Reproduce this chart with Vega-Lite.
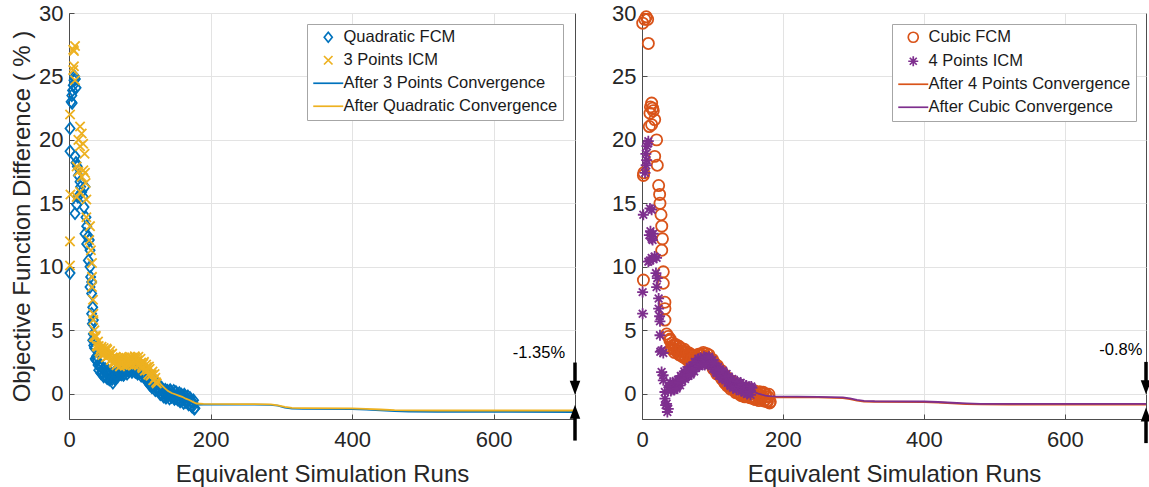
{
  "$schema": "https://vega.github.io/schema/vega-lite/v6.json",
  "padding": {"left": 10, "top": 1, "right": 0, "bottom": 0},
  "config": {
    "font": "Liberation Sans",
    "view": {"stroke": "#4d4d4d", "strokeWidth": 1},
    "axis": {"labelFontSize": 22, "labelColor": "#262626", "titleFontSize": 24, "titleColor": "#262626", "titleFontWeight": "normal", "domainColor": "#4d4d4d", "tickColor": "#4d4d4d", "gridColor": "#e3e3e3", "gridWidth": 1, "tickSize": -5, "labelFlush": false},
    "axisX": {"labelPadding": 15, "titlePadding": 12},
    "axisY": {"labelPadding": 11, "titlePadding": 4},
    "legend": {"labelFontSize": 16.5, "labelColor": "#1a1a1a", "labelFont": "Liberation Sans", "symbolSize": 100, "symbolStrokeWidth": 1.7, "padding": 5, "rowPadding": 6, "strokeColor": "#a6a6a6", "fillColor": "white", "labelLimit": 400, "symbolOffset": 8, "labelOffset": 7}
  },
  "datasets": {
    "qf": [
      {"x":1.5,"y":9.5},{"x":1.5,"y":19.1},{"x":1.5,"y":20.9},{"x":3,"y":23.0},{"x":4,"y":23.5},{"x":5,"y":23.9},{"x":6,"y":24.3},{"x":7,"y":24.7},{"x":8,"y":25.0},{"x":9,"y":24.8},{"x":10,"y":24.1},{"x":4.5,"y":22.9},
      {"x":8.5,"y":18.7},{"x":9.9,"y":18.2},{"x":11.8,"y":17.9},{"x":13.2,"y":17.2},{"x":15.6,"y":16.7},{"x":16.5,"y":16.3},{"x":18,"y":15.9},{"x":20.3,"y":15.5},{"x":22.6,"y":16.3},{"x":21.2,"y":14.7},{"x":8.5,"y":14.2},{"x":10.8,"y":14.9},{"x":12.5,"y":15.5},{"x":24,"y":13.9},{"x":25,"y":13.2},{"x":22.6,"y":12.6},{"x":27.3,"y":12.4},{"x":28.7,"y":12.1},{"x":25,"y":11.8},{"x":29.7,"y":11.3},{"x":27.3,"y":10.5},{"x":29.7,"y":10.0},{"x":30.6,"y":9.2},{"x":32,"y":8.8},{"x":29.7,"y":8.4},{"x":32,"y":7.9},{"x":33.5,"y":6.8},{"x":32,"y":6.3},{"x":34.4,"y":5.8},{"x":33,"y":5.5},{"x":34.4,"y":4.7},{"x":33.5,"y":4.2},{"x":35,"y":3.8},
      {"x":36,"y":3.6},{"x":38,"y":2.65},{"x":40,"y":2.6},{"x":42,"y":1.85},{"x":44,"y":2.15},{"x":46,"y":1.6},{"x":48,"y":1.95},{"x":50,"y":1.5},{"x":52,"y":1.65},{"x":54,"y":1.2},
      {"x":56,"y":1.8},{"x":58,"y":1.15},{"x":60,"y":1.4},{"x":62,"y":0.85},{"x":64,"y":1.55},{"x":66,"y":1.3},{"x":68,"y":1.95},{"x":70,"y":1.5},{"x":72,"y":1.85},{"x":74,"y":1.5},
      {"x":76,"y":2.1},{"x":78,"y":1.55},{"x":80,"y":2.0},{"x":82,"y":1.55},{"x":84,"y":2.15},{"x":86,"y":1.9},{"x":88,"y":2.35},{"x":90,"y":1.8},{"x":92,"y":2.05},{"x":94,"y":1.7},
      {"x":96,"y":2.2},{"x":98,"y":1.65},{"x":100,"y":1.9},{"x":102,"y":1.4},{"x":104,"y":1.95},{"x":106,"y":1.45},{"x":108,"y":1.75},{"x":110,"y":1.1},{"x":112,"y":1.2},{"x":114,"y":0.7},
      {"x":116,"y":1.2},{"x":118,"y":0.55},{"x":120,"y":0.8},{"x":122,"y":0.25},{"x":124,"y":0.75},{"x":126,"y":0.3},{"x":128,"y":0.65},{"x":130,"y":0.0},{"x":132,"y":0.17},{"x":134,"y":-0.25},
      {"x":136,"y":0.32},{"x":138,"y":-0.25},{"x":140,"y":0.08},{"x":142,"y":-0.4},{"x":144,"y":0.18},{"x":146,"y":-0.2},{"x":148,"y":0.23},{"x":150,"y":-0.35},{"x":152,"y":-0.12},{"x":154,"y":-0.5},
      {"x":156,"y":0.05},{"x":158,"y":-0.55},{"x":160,"y":-0.25},{"x":162,"y":-0.75},{"x":164,"y":-0.2},{"x":166,"y":-0.6},{"x":168,"y":-0.2},{"x":170,"y":-0.8},{"x":172,"y":-0.62},{"x":174,"y":-1.05},
      {"x":176,"y":-0.52},{"x":178,"y":-1.15},
      {"x":37,"y":2.75},{"x":39,"y":2.95},{"x":41,"y":2.25},{"x":43,"y":2.4},{"x":45,"y":1.6},{"x":47,"y":1.7},{"x":49,"y":1.35},{"x":51,"y":1.95},{"x":53,"y":1.3},{"x":55,"y":1.6},
      {"x":57,"y":1.1},{"x":59,"y":1.6},{"x":61,"y":1.15},{"x":63,"y":1.6},{"x":65,"y":1.15},{"x":67,"y":1.55},{"x":69,"y":1.35},{"x":71,"y":2.05},{"x":73,"y":1.55},{"x":75,"y":1.9},
      {"x":77,"y":1.45},{"x":79,"y":2.1},{"x":81,"y":1.8},{"x":83,"y":2.25},{"x":85,"y":1.75},{"x":87,"y":2.05},{"x":89,"y":1.7},{"x":91,"y":2.3},{"x":93,"y":1.75},{"x":95,"y":2.05},
      {"x":97,"y":1.55},{"x":99,"y":2.1},{"x":101,"y":1.68},{"x":103,"y":2.07},{"x":105,"y":1.42},{"x":107,"y":1.53},{"x":109,"y":1.05},{"x":111,"y":1.52},{"x":113,"y":0.83},{"x":115,"y":1.05},
      {"x":117,"y":0.5},{"x":119,"y":1.0},{"x":121,"y":0.55},{"x":123,"y":0.9},{"x":125,"y":0.25},{"x":127,"y":0.4},{"x":129,"y":-0.05},{"x":131,"y":0.46},{"x":133,"y":-0.17},{"x":135,"y":0.13},
      {"x":137,"y":-0.34},{"x":139,"y":0.24},{"x":141,"y":-0.13},{"x":143,"y":0.29},{"x":145,"y":-0.28},{"x":147,"y":-0.06},{"x":149,"y":-0.43},{"x":151,"y":0.14},{"x":153,"y":-0.43},{"x":155,"y":-0.12},
      {"x":157,"y":-0.62},{"x":159,"y":-0.07},{"x":161,"y":-0.47},{"x":163,"y":-0.07},{"x":165,"y":-0.67},{"x":167,"y":-0.47},{"x":169,"y":-0.87},{"x":171,"y":-0.33},{"x":173,"y":-0.96},{"x":175,"y":-0.68},{"x":177,"y":-1.21}
    ],
    "p3": [
      {"x":1.4,"y":10.1},{"x":1.4,"y":12.0},{"x":2,"y":15.7},{"x":1.5,"y":22.0},{"x":6,"y":27.1},{"x":8.5,"y":27.4},{"x":7,"y":27.0},{"x":6,"y":25.5},{"x":8.5,"y":24.7},{"x":7,"y":25.8},
      {"x":15.6,"y":21.05},{"x":13.2,"y":20.0},{"x":18,"y":20.5},{"x":15.6,"y":19.5},{"x":20,"y":19.7},{"x":22,"y":18.9},{"x":10.8,"y":17.9},{"x":13.2,"y":17.5},{"x":20.3,"y":17.6},{"x":18,"y":17.1},{"x":22.6,"y":17.4},{"x":23.5,"y":16.6},{"x":10.8,"y":15.5},{"x":15.6,"y":15.9},{"x":24.5,"y":15.3},{"x":24.5,"y":13.9},{"x":29.7,"y":13.2},{"x":28.7,"y":12.1},{"x":31,"y":11.3},{"x":32.5,"y":10.3},{"x":32.5,"y":9.2},{"x":32.5,"y":8.4},{"x":33.9,"y":7.4},{"x":34.4,"y":6.3},{"x":34.4,"y":5.8},{"x":36,"y":5.0},{"x":35,"y":4.5},
      {"x":36,"y":4.5},{"x":38,"y":4.55},{"x":40,"y":3.7},{"x":42,"y":3.75},{"x":44,"y":3.2},{"x":46,"y":3.7},{"x":48,"y":3.15},{"x":50,"y":3.4},{"x":52,"y":2.85},{"x":54,"y":3.45},
      {"x":56,"y":3.0},{"x":58,"y":3.35},{"x":60,"y":2.7},{"x":62,"y":2.85},{"x":64,"y":2.4},{"x":66,"y":2.9},{"x":68,"y":2.3},{"x":70,"y":2.6},{"x":72,"y":2.15},{"x":74,"y":2.75},
      {"x":76,"y":2.4},{"x":78,"y":2.85},{"x":80,"y":2.3},{"x":82,"y":2.6},{"x":84,"y":2.3},{"x":86,"y":2.9},{"x":88,"y":2.35},{"x":90,"y":2.7},{"x":92,"y":2.25},{"x":94,"y":2.85},
      {"x":96,"y":2.5},{"x":98,"y":2.9},{"x":100,"y":2.3},{"x":102,"y":2.45},{"x":104,"y":2.0},{"x":106,"y":2.5},{"x":108,"y":1.85},{"x":110,"y":2.1},{"x":112,"y":1.5},{"x":114,"y":1.95},
      {"x":116,"y":1.45},{"x":118,"y":1.75},{"x":120,"y":1.1},{"x":122,"y":1.25},{"x":124,"y":0.8},
      {"x":37,"y":4.45},{"x":39,"y":3.75},{"x":41,"y":4.1},{"x":43,"y":3.35},{"x":45,"y":3.55},{"x":47,"y":3.05},{"x":49,"y":3.6},{"x":51,"y":3.15},{"x":53,"y":3.55},{"x":55,"y":2.95},
      {"x":57,"y":3.1},{"x":59,"y":2.65},{"x":61,"y":3.15},{"x":63,"y":2.5},{"x":65,"y":2.75},{"x":67,"y":2.23},{"x":69,"y":2.77},{"x":71,"y":2.4},{"x":73,"y":2.85},{"x":75,"y":2.3},
      {"x":77,"y":2.55},{"x":79,"y":2.2},{"x":81,"y":2.82},{"x":83,"y":2.33},{"x":85,"y":2.7},{"x":87,"y":2.25},{"x":89,"y":2.85},{"x":91,"y":2.5},{"x":93,"y":2.95},{"x":95,"y":2.4},
      {"x":97,"y":2.63},{"x":99,"y":2.22},{"x":101,"y":2.75},{"x":103,"y":2.1},{"x":105,"y":2.35},{"x":107,"y":1.8},{"x":109,"y":2.3},{"x":111,"y":1.82},{"x":113,"y":2.13},{"x":115,"y":1.42},
      {"x":117,"y":1.53},{"x":119,"y":1.05},{"x":121,"y":1.55},{"x":123,"y":0.9}
    ],
    "a3": [
      {"x":178,"y":-0.88},{"x":190,"y":-0.86},{"x":250,"y":-0.86},{"x":285,"y":-0.88},{"x":295,"y":-0.95},{"x":305,"y":-1.1},{"x":315,"y":-1.18},{"x":330,"y":-1.2},{"x":400,"y":-1.22},{"x":420,"y":-1.26},{"x":440,"y":-1.32},{"x":460,"y":-1.38},{"x":480,"y":-1.42},{"x":520,"y":-1.44},{"x":715,"y":-1.45}
    ],
    "aq": [
      {"x":124,"y":1.1},{"x":128,"y":0.85},{"x":132,"y":0.6},{"x":136,"y":0.4},{"x":140,"y":0.2},{"x":145,"y":0.05},{"x":150,"y":-0.05},{"x":155,"y":-0.15},{"x":160,"y":-0.25},{"x":165,"y":-0.4},{"x":170,"y":-0.5},{"x":175,"y":-0.65},{"x":180,"y":-0.78},{"x":190,"y":-0.8},{"x":250,"y":-0.82},{"x":285,"y":-0.85},{"x":295,"y":-0.92},{"x":305,"y":-1.05},{"x":315,"y":-1.13},{"x":330,"y":-1.15},{"x":400,"y":-1.17},{"x":420,"y":-1.2},{"x":440,"y":-1.25},{"x":460,"y":-1.3},{"x":480,"y":-1.32},{"x":520,"y":-1.33},{"x":715,"y":-1.33}
    ],
    "cf": [
      {"x":1,"y":29.2},{"x":4,"y":29.5},{"x":6,"y":29.7},{"x":8,"y":29.5},{"x":9,"y":27.6},{"x":2,"y":17.2},{"x":2.5,"y":17.4},{"x":2,"y":8.95},
      {"x":13.7,"y":22.9},{"x":15,"y":22.5},{"x":11.3,"y":22.1},{"x":16,"y":22.3},{"x":10.4,"y":21.05},{"x":13.7,"y":21.2},{"x":18,"y":21.6},{"x":12,"y":22.6},
      {"x":20.7,"y":20.0},{"x":18,"y":18.7},{"x":21.7,"y":18.0},{"x":23.6,"y":16.4},{"x":25,"y":15.7},{"x":25.5,"y":15.0},{"x":27,"y":14.1},{"x":28,"y":13.2},{"x":29,"y":12.2},{"x":28,"y":11.3},{"x":30.2,"y":9.6},{"x":30.2,"y":8.7},{"x":32.5,"y":7.2},{"x":32.5,"y":6.7},{"x":32.5,"y":5.8},{"x":34.9,"y":4.7},{"x":37.3,"y":4.5},{"x":39.6,"y":4.2},
      {"x":40,"y":4.3},{"x":42,"y":3.55},{"x":44,"y":3.8},{"x":46,"y":3.25},{"x":48,"y":3.75},{"x":50,"y":3.4},{"x":52,"y":3.75},{"x":54,"y":3.1},{"x":56,"y":3.35},{"x":58,"y":2.9},
      {"x":60,"y":3.5},{"x":62,"y":2.85},{"x":64,"y":3.1},{"x":66,"y":2.55},{"x":68,"y":3.05},{"x":70,"y":2.6},{"x":72,"y":3.05},{"x":74,"y":2.5},{"x":76,"y":2.75},{"x":78,"y":2.4},
      {"x":80,"y":3.1},{"x":82,"y":2.55},{"x":84,"y":3.0},{"x":86,"y":2.55},{"x":88,"y":3.15},{"x":90,"y":2.8},{"x":92,"y":3.15},{"x":94,"y":2.6},{"x":96,"y":2.75},{"x":98,"y":2.3},
      {"x":100,"y":2.7},{"x":102,"y":1.95},{"x":104,"y":2.2},{"x":106,"y":1.55},{"x":108,"y":2.05},{"x":110,"y":1.5},{"x":112,"y":1.85},{"x":114,"y":1.2},{"x":116,"y":1.25},{"x":118,"y":0.8},
      {"x":120,"y":1.3},{"x":122,"y":0.65},{"x":124,"y":0.9},{"x":126,"y":0.35},{"x":128,"y":0.85},{"x":130,"y":0.4},{"x":132,"y":0.75},{"x":134,"y":0.15},{"x":136,"y":0.35},{"x":138,"y":-0.05},
      {"x":140,"y":0.5},{"x":142,"y":-0.1},{"x":144,"y":0.2},{"x":146,"y":-0.25},{"x":148,"y":0.3},{"x":150,"y":-0.1},{"x":152,"y":0.35},{"x":154,"y":-0.25},{"x":156,"y":0.0},{"x":158,"y":-0.4},
      {"x":160,"y":0.2},{"x":162,"y":-0.4},{"x":164,"y":-0.05},{"x":166,"y":-0.55},{"x":168,"y":0.05},{"x":170,"y":-0.35},{"x":172,"y":0.1},{"x":174,"y":-0.5},{"x":176,"y":-0.25},{"x":178,"y":-0.65},
      {"x":180,"y":-0.05},{"x":182,"y":-0.65},
      {"x":41,"y":3.55},{"x":43,"y":4.0},{"x":45,"y":3.55},{"x":47,"y":3.9},{"x":49,"y":3.3},{"x":51,"y":3.5},{"x":53,"y":3.05},{"x":55,"y":3.6},{"x":57,"y":3.0},{"x":59,"y":3.3},
      {"x":61,"y":2.8},{"x":63,"y":3.3},{"x":65,"y":2.85},{"x":67,"y":3.2},{"x":69,"y":2.55},{"x":71,"y":2.75},{"x":73,"y":2.4},{"x":75,"y":3.0},{"x":77,"y":2.45},{"x":79,"y":2.85},
      {"x":81,"y":2.45},{"x":83,"y":3.1},{"x":85,"y":2.8},{"x":87,"y":3.25},{"x":89,"y":2.7},{"x":91,"y":2.9},{"x":93,"y":2.5},{"x":95,"y":3.05},{"x":97,"y":2.4},{"x":99,"y":2.6},
      {"x":101,"y":1.95},{"x":103,"y":2.4},{"x":105,"y":1.9},{"x":107,"y":2.2},{"x":109,"y":1.5},{"x":111,"y":1.6},{"x":113,"y":1.15},{"x":115,"y":1.6},{"x":117,"y":0.9},{"x":119,"y":1.15},
      {"x":121,"y":0.6},{"x":123,"y":1.1},{"x":125,"y":0.65},{"x":127,"y":1.0},{"x":129,"y":0.35},{"x":131,"y":0.5},{"x":133,"y":0.08},{"x":135,"y":0.63},{"x":137,"y":0.03},{"x":139,"y":0.32},
      {"x":141,"y":-0.17},{"x":143,"y":0.37},{"x":145,"y":0.0},{"x":147,"y":0.43},{"x":149,"y":-0.18},{"x":151,"y":0.05},{"x":153,"y":-0.32},{"x":155,"y":0.25},{"x":157,"y":-0.33},{"x":159,"y":0.0},
      {"x":161,"y":-0.47},{"x":163,"y":0.1},{"x":165,"y":-0.28},{"x":167,"y":0.15},{"x":169,"y":-0.42},{"x":171,"y":-0.2},{"x":173,"y":-0.58},{"x":175,"y":0.0},{"x":177,"y":-0.57},{"x":179,"y":-0.25},{"x":181,"y":-0.73}
    ],
    "p4": [
      {"x":0.9,"y":6.3},{"x":0.9,"y":8.0},{"x":1.9,"y":14.1},{"x":4.3,"y":17.4},{"x":6.6,"y":18.4},{"x":5.5,"y":18.9},{"x":7,"y":19.5},{"x":9,"y":19.9},{"x":8,"y":19.7},{"x":6,"y":18.0},
      {"x":11.3,"y":14.6},{"x":13.7,"y":14.5},{"x":10.4,"y":12.5},{"x":13.7,"y":12.2},{"x":16,"y":12.6},{"x":15,"y":12.1},{"x":12,"y":12.8},
      {"x":9,"y":10.4},{"x":11.3,"y":10.5},{"x":13.7,"y":10.7},{"x":18,"y":10.8},{"x":20.7,"y":10.7},{"x":16,"y":10.6},
      {"x":19.8,"y":9.5},{"x":21.7,"y":9.1},{"x":20.7,"y":8.4},{"x":23.6,"y":7.5},{"x":23.6,"y":6.7},{"x":25,"y":6.1},{"x":25.5,"y":5.7},{"x":25.5,"y":4.6},{"x":26,"y":3.3},{"x":27.7,"y":3.4},{"x":30.2,"y":3.2},{"x":27.8,"y":1.7},{"x":30,"y":1.45},{"x":30.2,"y":1.05},{"x":32.5,"y":0.13},{"x":32.5,"y":-0.4},{"x":34.9,"y":-0.8},{"x":37.3,"y":-1.2},{"x":36,"y":-1.45},{"x":33.5,"y":-0.9},
      {"x":38,"y":0.5},{"x":40,"y":0.85},{"x":42,"y":0.3},{"x":44,"y":0.55},{"x":46,"y":0.3},{"x":48,"y":1.0},{"x":50,"y":0.55},{"x":52,"y":1.0},{"x":54,"y":0.65},{"x":56,"y":1.35},
      {"x":58,"y":1.2},{"x":60,"y":1.75},{"x":62,"y":1.3},{"x":64,"y":1.65},{"x":66,"y":1.4},{"x":68,"y":2.1},{"x":70,"y":1.65},{"x":72,"y":2.1},{"x":74,"y":1.75},{"x":76,"y":2.45},
      {"x":78,"y":2.2},{"x":80,"y":2.75},{"x":82,"y":2.3},{"x":84,"y":2.55},{"x":86,"y":2.3},{"x":88,"y":2.9},{"x":90,"y":2.35},{"x":92,"y":2.7},{"x":94,"y":2.25},{"x":96,"y":2.75},
      {"x":98,"y":2.3},{"x":100,"y":2.65},{"x":102,"y":2.0},{"x":104,"y":2.05},{"x":106,"y":1.6},{"x":108,"y":2.1},{"x":110,"y":1.45},{"x":112,"y":1.7},{"x":114,"y":1.15},{"x":116,"y":1.65},
      {"x":118,"y":1.2},{"x":120,"y":1.55},{"x":122,"y":0.9},{"x":124,"y":1.05},{"x":126,"y":0.6},{"x":128,"y":1.15},{"x":130,"y":0.55},{"x":132,"y":0.8},{"x":134,"y":0.3},{"x":136,"y":0.85},
      {"x":138,"y":0.45},{"x":140,"y":0.85},{"x":142,"y":0.25},{"x":144,"y":0.45},{"x":146,"y":0.1},{"x":148,"y":0.65},{"x":150,"y":0.05},{"x":152,"y":0.4},{"x":154,"y":-0.1},{"x":156,"y":0.45},
      {"x":39,"y":0.6},{"x":41,"y":0.2},{"x":43,"y":0.8},{"x":45,"y":0.3},{"x":47,"y":0.75},{"x":49,"y":0.4},{"x":51,"y":1.1},{"x":53,"y":0.85},{"x":55,"y":1.4},{"x":57,"y":1.0},
      {"x":59,"y":1.4},{"x":61,"y":1.15},{"x":63,"y":1.85},{"x":65,"y":1.4},{"x":67,"y":1.85},{"x":69,"y":1.5},{"x":71,"y":2.2},{"x":73,"y":1.95},{"x":75,"y":2.5},{"x":77,"y":2.05},
      {"x":79,"y":2.4},{"x":81,"y":2.15},{"x":83,"y":2.8},{"x":85,"y":2.3},{"x":87,"y":2.7},{"x":89,"y":2.25},{"x":91,"y":2.85},{"x":93,"y":2.5},{"x":95,"y":2.9},{"x":97,"y":2.25},
      {"x":99,"y":2.4},{"x":101,"y":1.95},{"x":103,"y":2.4},{"x":105,"y":1.7},{"x":107,"y":1.95},{"x":109,"y":1.4},{"x":111,"y":1.9},{"x":113,"y":1.45},{"x":115,"y":1.8},{"x":117,"y":1.15},
      {"x":119,"y":1.3},{"x":121,"y":0.85},{"x":123,"y":1.35},{"x":125,"y":0.7},{"x":127,"y":0.98},{"x":129,"y":0.47},{"x":131,"y":1.0},{"x":133,"y":0.58},{"x":135,"y":0.97},{"x":137,"y":0.38},
      {"x":139,"y":0.57},{"x":141,"y":0.18},{"x":143,"y":0.72},{"x":145,"y":0.15},{"x":147,"y":0.48},{"x":149,"y":-0.03},{"x":151,"y":0.55},{"x":153,"y":0.18},{"x":155,"y":0.57}
    ],
    "a4": [
      {"x":182,"y":-0.35},{"x":190,"y":-0.3},{"x":250,"y":-0.3},{"x":285,"y":-0.35},{"x":295,"y":-0.43},{"x":305,"y":-0.55},{"x":315,"y":-0.62},{"x":330,"y":-0.64},{"x":400,"y":-0.66},{"x":420,"y":-0.7},{"x":440,"y":-0.76},{"x":460,"y":-0.82},{"x":480,"y":-0.85},{"x":520,"y":-0.86},{"x":715,"y":-0.86}
    ],
    "ac": [
      {"x":156,"y":0.2},{"x":160,"y":0.1},{"x":165,"y":0.0},{"x":170,"y":-0.08},{"x":175,"y":-0.15},{"x":180,"y":-0.2},{"x":190,"y":-0.22},{"x":250,"y":-0.25},{"x":285,"y":-0.3},{"x":295,"y":-0.38},{"x":305,"y":-0.5},{"x":315,"y":-0.57},{"x":330,"y":-0.6},{"x":400,"y":-0.62},{"x":420,"y":-0.66},{"x":440,"y":-0.72},{"x":460,"y":-0.77},{"x":480,"y":-0.8},{"x":520,"y":-0.8},{"x":715,"y":-0.8}
    ]
  },
  "spacing": 30,
  "resolve": {"scale": {"x": "independent", "y": "independent", "color": "independent", "shape": "independent"}, "legend": {"color": "independent", "shape": "independent"}},
  "hconcat": [
    {
      "width": 506, "height": 406,
      "encoding": {
        "x": {"field": "x", "type": "quantitative", "scale": {"domain": [0, 715], "nice": false, "zero": false}, "axis": {"values": [0, 200, 400, 600], "title": "Equivalent Simulation Runs"}},
        "y": {"field": "y", "type": "quantitative", "scale": {"domain": [-2, 30], "nice": false, "zero": false}, "axis": {"values": [0, 5, 10, 15, 20, 25, 30], "title": "Objective Function Difference ( % )"}}
      },
      "layer": [
        {"data": {"name": "qf"}, "mark": {"type": "point", "filled": false, "size": 130, "strokeWidth": 1.8, "opacity": 1},
         "encoding": {
           "color": {"datum": "Quadratic FCM", "type": "nominal", "scale": {"domain": ["Quadratic FCM", "3 Points ICM", "After 3 Points Convergence", "After Quadratic Convergence"], "range": ["#0072BD", "#EDB120", "#0072BD", "#EDB120"]}, "legend": {"title": null, "orient": "none", "legendX": 238, "legendY": 11, "encode": {"symbols": {"update": {"fill": {"value": "transparent"}, "strokeWidth": {"value": 1.7}, "opacity": {"value": 1}}}}}},
           "shape": {"datum": "Quadratic FCM", "type": "nominal", "scale": {"domain": ["Quadratic FCM", "3 Points ICM", "After 3 Points Convergence", "After Quadratic Convergence"], "range": ["M0,-1L0.8,0L0,1L-0.8,0Z", "M-0.85,-0.85L0.85,0.85M-0.85,0.85L0.85,-0.85", "M-3,0L3,0", "M-3,0L3,0"]}, "legend": {"title": null, "orient": "none", "legendX": 238, "legendY": 11}}
         }},
        {"data": {"name": "p3"}, "mark": {"type": "point", "filled": false, "size": 120, "strokeWidth": 1.8, "opacity": 1},
         "encoding": {"color": {"datum": "3 Points ICM", "type": "nominal"}, "shape": {"datum": "3 Points ICM", "type": "nominal"}}},
        {"data": {"name": "a3"}, "mark": {"type": "line", "strokeWidth": 1.8},
         "encoding": {"color": {"datum": "After 3 Points Convergence", "type": "nominal"}}},
        {"data": {"name": "aq"}, "mark": {"type": "line", "strokeWidth": 1.8},
         "encoding": {"color": {"datum": "After Quadratic Convergence", "type": "nominal"}}},
        {"data": {"values": [{"x": 701, "y": 3.18, "t": "-1.35%"}]}, "mark": {"type": "text", "align": "right", "baseline": "middle", "fontSize": 16.5, "color": "#000000", "font": "Liberation Sans"},
         "encoding": {"text": {"field": "t", "type": "nominal"}}},
        {"data": {"values": [{"x": 715, "y": 2.45, "y2": 0.6}, {"x": 715, "y": -3.7, "y2": -1.6}]}, "mark": {"type": "rule", "strokeWidth": 3.5, "color": "#000000"},
         "encoding": {"y2": {"field": "y2"}}},
        {"data": {"values": [{"x": 715, "y": -0.08}]}, "mark": {"type": "point", "filled": true, "shape": "M-0.75,-2L0.75,-2L0,0Z", "size": 196, "color": "#000000", "opacity": 1, "strokeWidth": 0},
         "encoding": {}},
        {"data": {"values": [{"x": 715, "y": -0.87}]}, "mark": {"type": "point", "filled": true, "shape": "M-0.75,2L0.75,2L0,0Z", "size": 196, "color": "#000000", "opacity": 1, "strokeWidth": 0},
         "encoding": {}}
      ]
    },
    {
      "width": 504, "height": 406,
      "encoding": {
        "x": {"field": "x", "type": "quantitative", "scale": {"domain": [0, 715], "nice": false, "zero": false}, "axis": {"values": [0, 200, 400, 600], "title": "Equivalent Simulation Runs"}},
        "y": {"field": "y", "type": "quantitative", "scale": {"domain": [-2, 30], "nice": false, "zero": false}, "axis": {"values": [0, 5, 10, 15, 20, 25, 30], "title": null}}
      },
      "layer": [
        {"data": {"name": "cf"}, "mark": {"type": "point", "filled": false, "size": 125, "strokeWidth": 1.8, "opacity": 1},
         "encoding": {
           "color": {"datum": "Cubic FCM", "type": "nominal", "scale": {"domain": ["Cubic FCM", "4 Points ICM", "After 4 Points Convergence", "After Cubic Convergence"], "range": ["#D95319", "#7E2F8E", "#D95319", "#7E2F8E"]}, "legend": {"title": null, "orient": "none", "legendX": 250, "legendY": 11, "encode": {"symbols": {"update": {"fill": {"value": "transparent"}, "strokeWidth": {"value": 1.7}, "opacity": {"value": 1}}}}}},
           "shape": {"datum": "Cubic FCM", "type": "nominal", "scale": {"domain": ["Cubic FCM", "4 Points ICM", "After 4 Points Convergence", "After Cubic Convergence"], "range": ["circle", "M0,-1L0,1M-1,0L1,0M-0.7,-0.7L0.7,0.7M-0.7,0.7L0.7,-0.7", "M-3,0L3,0", "M-3,0L3,0"]}, "legend": {"title": null, "orient": "none", "legendX": 250, "legendY": 11}}
         }},
        {"data": {"name": "p4"}, "mark": {"type": "point", "filled": false, "size": 120, "strokeWidth": 1.8, "opacity": 1},
         "encoding": {"color": {"datum": "4 Points ICM", "type": "nominal"}, "shape": {"datum": "4 Points ICM", "type": "nominal"}}},
        {"data": {"name": "a4"}, "mark": {"type": "line", "strokeWidth": 1.8},
         "encoding": {"color": {"datum": "After 4 Points Convergence", "type": "nominal"}}},
        {"data": {"name": "ac"}, "mark": {"type": "line", "strokeWidth": 1.8},
         "encoding": {"color": {"datum": "After Cubic Convergence", "type": "nominal"}}},
        {"data": {"values": [{"x": 710, "y": 3.4, "t": "-0.8%"}]}, "mark": {"type": "text", "align": "right", "baseline": "middle", "fontSize": 16.5, "color": "#000000", "font": "Liberation Sans"},
         "encoding": {"text": {"field": "t", "type": "nominal"}}},
        {"data": {"values": [{"x": 715, "y": 2.5, "y2": 0.7}, {"x": 715, "y": -3.9, "y2": -1.9}]}, "mark": {"type": "rule", "strokeWidth": 3.5, "color": "#000000"},
         "encoding": {"y2": {"field": "y2"}}},
        {"data": {"values": [{"x": 715, "y": -0.05}]}, "mark": {"type": "point", "filled": true, "shape": "M-0.75,-2L0.75,-2L0,0Z", "size": 196, "color": "#000000", "opacity": 1, "strokeWidth": 0},
         "encoding": {}},
        {"data": {"values": [{"x": 715, "y": -1.1}]}, "mark": {"type": "point", "filled": true, "shape": "M-0.75,2L0.75,2L0,0Z", "size": 196, "color": "#000000", "opacity": 1, "strokeWidth": 0},
         "encoding": {}}
      ]
    }
  ]
}
